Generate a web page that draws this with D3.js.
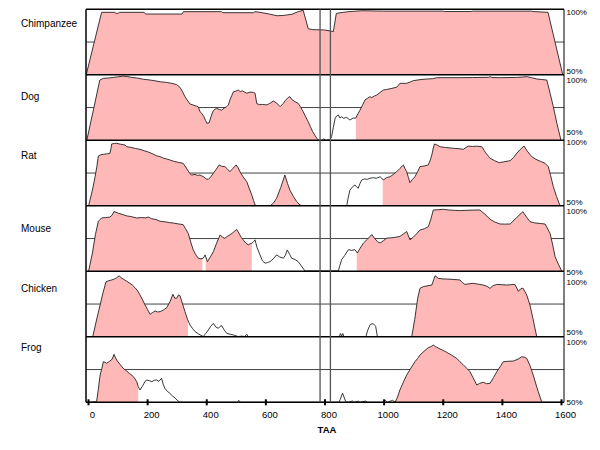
<!DOCTYPE html>
<html><head><meta charset="utf-8">
<script src="https://cdn.jsdelivr.net/npm/d3@7"></script>
<style>body{margin:0;background:#fff}svg{display:block}text{font-family:"Liberation Sans",Arial,sans-serif}</style>
</head><body><svg id="c" width="600" height="450"></svg>
<script>
// ---------------- DATA ----------------
const species = ["Chimpanzee","Dog","Rat","Mouse","Chicken","Frog"];
const xTicks = [0,200,400,600,800,1000,1200,1400,1600];
const xTitle = "TAA";
const pctLabels = ["100%","50%"];
const markers = [785, 820];

const chimpanzee = [[-6,50],[46,97.7],[90,97.7],[95,96.9],[102,96.9],[106,97.7],[190,97.7],[195,96.4],[318,96.4],[323,98.2],[452,98.2],[456,97.4],[560,97.4],[565,98.2],[582,97.7],[610,96.5],[640,95.1],[660,95.3],[690,96.2],[711,98.2],[728,99.2],[745,85.2],[760,84.5],[800,84.2],[830,83],[840,96.9],[880,98.2],[926,98.9],[1000,98.6],[1200,98.6],[1205,98.3],[1295,98.3],[1300,98.6],[1500,98.6],[1505,98.3],[1556,97.7],[1606,50]];
const dog = [[-4,50],[20,75],[40,96],[52,97.3],[70,97.6],[86,98],[100,98.4],[119,99],[135,98.6],[148,98],[165,97.6],[187,96.6],[210,96],[230,95.3],[244,94.7],[265,94.2],[283,93.5],[300,92.5],[311,90.5],[320,87],[328,83.3],[338,80],[345,77.7],[355,77],[368,76],[373,75.5],[379,71.8],[385,70.5],[392,68],[398,65],[402,63],[410,63.4],[416,68],[422,71.8],[428,73.5],[435,74.4],[444,73.5],[452,73],[460,74.5],[469,75.7],[475,77],[480,80.8],[486,84],[492,87],[500,87.5],[508,88.4],[515,87.2],[522,87.8],[537,85.9],[548,86.8],[559,86.6],[565,86],[571,78],[580,77.2],[590,77.4],[605,77],[615,78.2],[627,80],[638,78.5],[650,75.7],[660,78],[668,80.5],[678,82.8],[683,83.3],[690,81],[700,79.5],[711,78.2],[720,75],[728,71.8],[736,68],[745,64.2],[752,60.5],[760,56.6],[767,54],[774,51.5],[780,50],[792,50],[797,51.2],[802,50.2],[808,50],[813,50.5],[818,50],[824,52.8],[830,60],[836,66.8],[841,68.5],[847,69.3],[852,67],[858,68],[864,66.8],[875,67.5],[886,65.5],[897,67],[905,66.8],[914,70.6],[920,73],[930,77.5],[937,80.8],[945,82],[954,83.3],[960,82.6],[970,84],[977,84.6],[988,86.5],[999,88.4],[1010,88.8],[1025,89.5],[1044,90.5],[1050,92],[1055,93.5],[1078,93.5],[1090,94.5],[1100,95.5],[1120,96.2],[1146,96.8],[1165,97],[1180,97.8],[1258,97.8],[1300,97.9],[1355,98.1],[1360,98.6],[1366,97.9],[1394,97.8],[1450,98],[1470,98.3],[1484,98.6],[1500,97.8],[1518,96.8],[1535,96.4],[1552,96],[1563,86],[1574,75.7],[1586,63],[1600,50]];
const rat = [[2,50],[15,62],[24,72.2],[30,80],[35,88],[44,89],[52,89.3],[62,89.6],[74,90],[78,94],[80,97.2],[90,97.6],[97,97.7],[110,97],[125,96.4],[131,95.1],[145,94.6],[160,93.8],[176,93.1],[190,92],[200,91.4],[210,90.5],[222,89.3],[232,88.2],[244,87.5],[255,86.4],[265,85.8],[277,85],[290,84],[305,83.2],[322,82.4],[335,78],[345,74.5],[351,73.5],[362,74],[370,73.2],[379,73.5],[392,72],[400,70.5],[407,70.2],[415,72],[424,74.8],[434,78],[444,81.2],[452,80.2],[463,79.9],[470,78.5],[480,76],[490,78.5],[501,81.2],[508,79],[514,76],[525,72],[537,68.4],[545,63.5],[554,58.3],[560,54],[565,50.6],[571,50],[616,50],[627,52],[638,55.7],[652,64],[666,73.5],[675,67],[683,62],[695,57],[706,53.2],[717,50.6],[725,50],[875,50],[880,56],[886,62],[895,64.5],[903,65.9],[908,64.5],[914,63.4],[920,67],[926,69.7],[935,70.5],[945,70.2],[954,71],[965,71.5],[975,71],[988,72.2],[993,71.2],[999,69.7],[1010,71.5],[1022,72.2],[1033,74],[1044,76],[1055,78.5],[1067,81.2],[1072,78.5],[1078,76],[1084,71.5],[1089,67.7],[1097,70],[1106,72.2],[1115,76],[1123,79.9],[1140,80.5],[1151,81.2],[1158,85],[1163,88.8],[1168,94],[1172,97.2],[1180,96.5],[1191,95.1],[1210,94.5],[1236,93.9],[1255,93.6],[1270,93.1],[1278,94.5],[1287,95.6],[1300,95.3],[1315,95.5],[1332,95.1],[1345,90.5],[1360,86.3],[1375,84.5],[1391,82.9],[1405,83.5],[1428,84.4],[1440,87],[1450,90],[1462,93],[1475,95.6],[1485,92],[1501,87.5],[1515,85.5],[1530,84],[1546,82.4],[1557,79.9],[1565,73],[1574,64.6],[1585,57],[1597,50]];
const mouse = [[2,50],[15,64],[25,78],[35,88.2],[46,90.7],[60,91],[74,91.4],[82,93],[88,95.6],[95,95],[103,94.3],[115,93.5],[131,92.3],[145,91.8],[165,90.7],[180,91],[195,90.8],[204,91.4],[215,90.2],[230,89.5],[244,88.2],[260,87.8],[275,87.2],[289,86.8],[305,86.2],[322,85.6],[330,82.5],[339,79],[348,72],[356,66.3],[365,62.5],[373,60],[382,59.5],[390,60],[396,62.5],[404,57.4],[414,61],[424,65],[435,71.5],[447,77.8],[455,76],[463,75.2],[470,76.5],[480,77.8],[490,79.5],[503,82],[512,78.5],[518,76],[525,74],[534,71.5],[542,70.1],[548,71],[554,71.4],[560,72.5],[565,74],[572,68],[582,62.5],[590,58],[599,56.2],[608,56.7],[616,57.4],[627,59.5],[638,62.5],[648,61],[661,60],[668,62.5],[674,66.3],[682,63],[689,60],[700,59],[711,57.4],[722,54],[734,50.3],[847,50.3],[852,54.5],[858,58.9],[868,62],[881,66.5],[892,66],[903,66.5],[911,64],[920,67.5],[932,71.6],[945,74.5],[960,78],[970,75],[980,72.5],[988,71.6],[1000,73.5],[1011,75.4],[1025,75.5],[1040,76],[1055,76.6],[1067,78.5],[1078,80.4],[1084,77],[1089,74],[1100,76],[1111,78.5],[1123,81.5],[1138,82.5],[1151,84],[1160,90],[1168,96.8],[1185,97],[1202,97.3],[1220,96.8],[1240,96.5],[1258,96.3],[1275,96.5],[1300,96.7],[1326,96.8],[1343,93.5],[1360,89.7],[1377,87.5],[1394,86.1],[1410,86],[1428,86.1],[1450,91],[1471,95.5],[1483,91.5],[1495,87.9],[1510,87],[1530,86.5],[1546,86.1],[1563,79],[1572,70],[1580,61.1],[1592,55],[1603,50]];
const chicken = [[-4,50],[16,50],[28,62],[41,74.3],[50,83],[61,92],[70,92.8],[80,93.4],[90,94.2],[97,95.1],[106,96.6],[112,95],[119,94.1],[130,92.5],[142,90.8],[150,89.5],[159,87.5],[168,85],[176,81.9],[185,78],[193,74.3],[202,70.5],[210,67.2],[218,68.5],[227,69.7],[235,69],[244,69.2],[255,70.5],[266,72.2],[278,77],[287,82.5],[294,79.4],[300,79.4],[306,82],[311,81.4],[320,75],[328,69.2],[337,63],[345,59],[353,56.5],[362,54],[375,52],[390,50.2],[398,52.5],[407,55.2],[415,58],[424,60.3],[432,57.5],[441,56.5],[447,58],[452,58.5],[460,55.5],[469,52.7],[480,52],[492,51.4],[500,50.8],[508,50.2],[520,50.5],[530,50.2],[537,52],[542,50],[850,50],[854,52.5],[858,50.5],[862,52.5],[866,50],[940,50],[946,55],[955,59.5],[965,60],[973,58],[979,50],[1095,50],[1105,63],[1115,79],[1123,87],[1134,88.3],[1150,89],[1163,89.5],[1170,94],[1174,96.6],[1185,94.6],[1200,94.2],[1213,94.1],[1235,93.8],[1258,93.4],[1266,91.5],[1275,90],[1290,90.5],[1303,90.8],[1320,90.2],[1337,89.5],[1350,88.5],[1360,87],[1370,89],[1383,90],[1400,89.8],[1416,89.5],[1430,89.8],[1444,90],[1456,84.7],[1463,86.5],[1471,87.2],[1478,84.5],[1484,81.9],[1495,74.3],[1505,64],[1518,50],[1606,50]];
const frog = [[-6,50],[29,50.4],[35,60],[41,70.8],[47,76],[52,81],[58,80.5],[63,79.8],[68,80.5],[74,81.5],[82,83],[88,86.6],[93,84],[97,82.3],[108,79],[119,76],[130,74],[140,72],[148,70.8],[157,68.5],[165,65.7],[170,62],[176,59.4],[186,63],[193,66],[199,67],[207,66.5],[216,65.7],[224,66.8],[232,67],[240,66],[249,68.3],[254,64],[260,60.6],[268,58.5],[277,56.8],[285,55],[294,53.4],[302,51.5],[311,50],[505,50],[510,51.5],[516,50],[848,50],[853,52],[861,57],[866,54],[872,50.5],[880,50],[895,51],[900,50],[915,50.8],[920,50],[940,51],[945,50],[1000,50],[1006,51.5],[1012,50],[1030,51.5],[1039,50],[1047,54],[1055,59.4],[1066,65],[1078,70.8],[1092,76],[1106,81],[1115,83.5],[1123,86.1],[1137,89],[1151,91.7],[1160,92.5],[1168,93.7],[1175,92.5],[1180,92],[1191,90.7],[1202,89.5],[1213,88.2],[1230,86],[1247,83.6],[1258,81],[1270,78.5],[1281,76],[1292,73.4],[1302,69],[1315,63.2],[1325,64.5],[1337,65.3],[1348,64.2],[1360,64.5],[1372,69],[1383,73.4],[1395,77.5],[1405,81],[1420,81.3],[1439,81.5],[1455,83],[1467,84.8],[1475,84.5],[1484,83.6],[1495,78],[1506,70.8],[1515,64],[1523,58.1],[1535,50],[1606,50]];

// conserved (pink) intervals per species
const chimpanzeePink = [[-10,1615]];
const dogPink = [[-10,785],[906,1615]];
const ratPink = [[-10,575],[612,722],[997,1615]];
const mousePink = [[-10,387],[398,554],[909,1615]];
const chickenPink = [[-10,338],[1078,1615]];
const frogPink = [[-10,170],[1040,1548]];

const table = species.map((name,i)=>({
  name,
  values:[chimpanzee,dog,rat,mouse,chicken,frog][i],
  pink:[chimpanzeePink,dogPink,ratPink,mousePink,chickenPink,frogPink][i]
}));

// ---------------- LAYOUT ----------------
const T0 = 9.3, H = 65.5;
const left = 86, right = 564;
const labelBaseline = [27.3, 100, 159.3, 231.7, 291.7, 351];
const pctLabelY = [[11.7,70.7],[80,131.7],[141.7,201.7],[211,271.7],[281.7,331.7],[342.3,401.7]];

const svg = d3.select("#c");
const x = d3.scaleLinear().domain([0,1600]).range([88,561]);

const defs = svg.append("defs");
table.forEach((s,i)=>{
  const top = T0 + H*i;
  const y = d3.scaleLinear().domain([50,100]).range([top+H, top]);
  const g = svg.append("g");
  // panel clip
  const cp = defs.append("clipPath").attr("id","panel"+i);
  cp.append("rect").attr("x",left).attr("y",top).attr("width",right-left).attr("height",H);
  const pk = defs.append("clipPath").attr("id","pink"+i);
  pk.selectAll("rect").data(s.pink).join("rect")
    .attr("x",d=>Math.max(left,x(d[0]))).attr("y",top)
    .attr("width",d=>Math.min(right,x(d[1]))-Math.max(left,x(d[0]))).attr("height",H);

  // 75% midline
  g.append("line").attr("x1",left).attr("x2",right).attr("y1",y(75)).attr("y2",y(75))
    .attr("stroke","#444").attr("stroke-width",1);

  const inner = g.append("g").attr("clip-path","url(#panel"+i+")");
  const area = d3.area().x(d=>x(d[0])).y0(y(50)).y1(d=>y(d[1]));
  const line = d3.line().x(d=>x(d[0])).y(d=>y(d[1]));
  inner.append("g").attr("clip-path","url(#pink"+i+")")
    .append("path").attr("d",area(s.values)).attr("fill","#ffb8b8");
  inner.append("path").attr("d",line(s.values)).attr("fill","none")
    .attr("stroke","#222").attr("stroke-width",0.9).attr("stroke-linejoin","round");

  // species label
  svg.append("text").attr("x",21).attr("y",labelBaseline[i])
    .attr("font-size",10).attr("fill","#000").text(s.name);
  // percent labels
  pctLabels.forEach((t,k)=>{
    svg.append("text").attr("x",566.5).attr("y",pctLabelY[i][k]).attr("dy","0.35em")
      .attr("font-size",8).attr("fill","#000").text(t);
  });
});

// panel frame lines
for(let i=0;i<=species.length;i++){
  const yy = T0 + H*i;
  svg.append("line").attr("x1",left).attr("x2",right).attr("y1",yy).attr("y2",yy)
    .attr("stroke","#000").attr("stroke-width",1.5);
}
const bottom = T0 + H*species.length;
svg.append("line").attr("x1",left).attr("x2",left).attr("y1",T0).attr("y2",bottom)
  .attr("stroke","#000").attr("stroke-width",1.5);
svg.append("line").attr("x1",right).attr("x2",right).attr("y1",T0).attr("y2",bottom)
  .attr("stroke","#000").attr("stroke-width",1);

// marker lines
svg.selectAll("line.mk").data(markers).join("line").attr("class","mk")
  .attr("x1",d=>x(d)).attr("x2",d=>x(d)).attr("y1",T0).attr("y2",bottom)
  .attr("stroke","#555").attr("stroke-width",1.3);

// x axis
const axis = svg.append("g").attr("transform",`translate(0,${bottom})`)
  .call(d3.axisBottom(x).tickValues(xTicks).tickSize(3).tickFormat(d3.format("d")));
axis.select(".domain").remove();
axis.selectAll(".tick line").attr("y1",-3).attr("y2",3).attr("stroke","#000").attr("stroke-width",2);
axis.selectAll(".tick text").attr("y",15.5).attr("dy",0).attr("dx",4)
  .attr("font-size",9.5).attr("font-family","Liberation Sans, Arial, sans-serif").attr("fill","#000");

svg.append("text").attr("x",327).attr("y",432.7).attr("text-anchor","middle")
  .attr("font-size",9.5).attr("font-weight","bold").attr("fill","#000").text(xTitle);
</script></body></html>
